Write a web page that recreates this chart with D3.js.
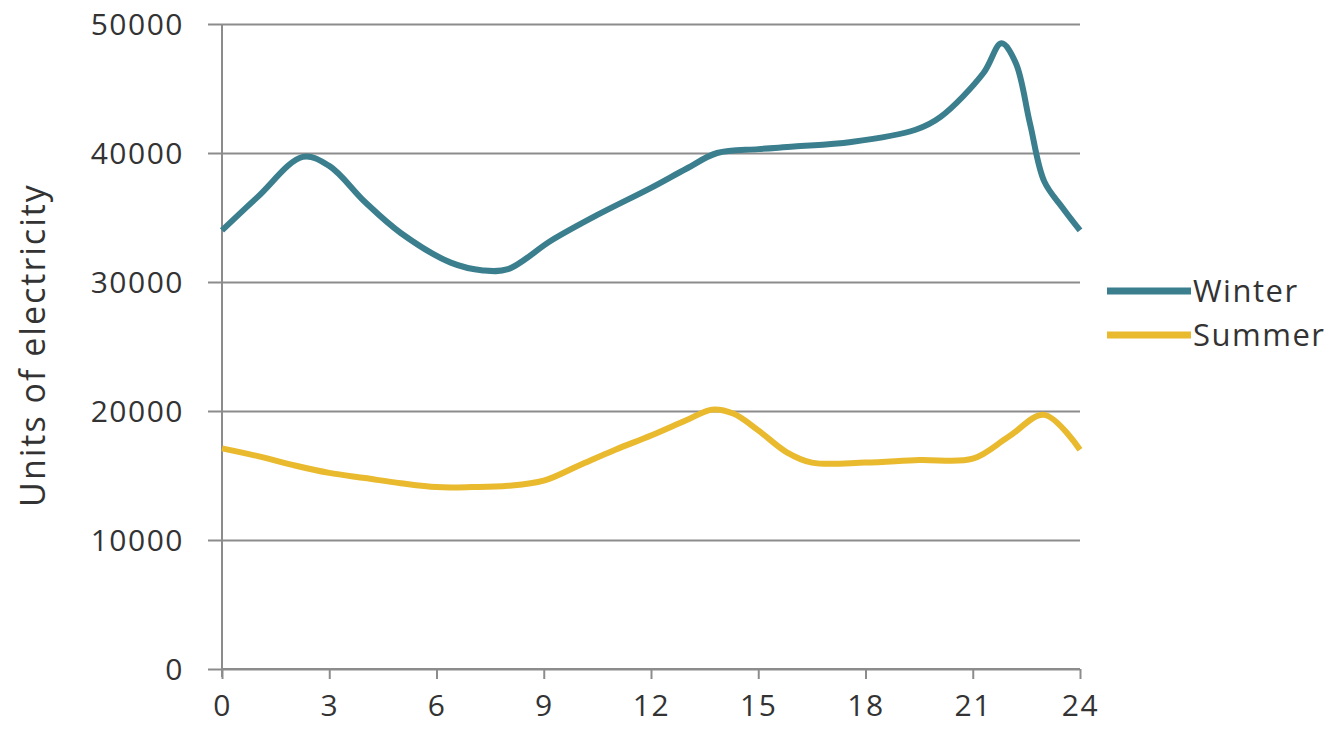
<!doctype html>
<html lang="en">
  <head>
    <meta charset="utf-8">
    <title>Units of electricity</title>
    <script src="https://d3js.org/d3.v7.min.js"></script>
    <style>
      body { margin: 0; background: #fff; }
      text { font-family: "Open Sans", sans-serif; fill: #333; }
    </style>
  </head>

  <body>
    <svg width="1342" height="752"></svg>

    <script>
      var hourTicks = [0, 3, 6, 9, 12, 15, 18, 21, 24];
      var valueTicks = [0, 10000, 20000, 30000, 40000, 50000];

      var winterHours = [0, 1, 2.26, 3, 4, 5, 6.4, 7.3, 8, 9.2, 10.5, 12, 13, 13.85, 15, 16, 17.6, 19.4, 20.1, 21.3, 21.8, 22.2, 22.6, 23, 23.5, 24];
      var winterValues = [34000, 36600, 39700, 39000, 36200, 33800, 31500, 30900, 31000, 33200, 35200, 37300, 38800, 40000, 40300, 40500, 40850, 41800, 42800, 46200, 48500, 47000, 42300, 37800, 35800, 34000];

      var summerHours = [0, 1, 2, 3, 4, 5, 6, 7, 8, 9, 10, 11, 12, 13, 13.7, 14.3, 15, 15.8, 16.5, 18, 19.5, 21, 22, 23, 24];
      var summerValues = [17100, 16500, 15800, 15200, 14800, 14400, 14100, 14100, 14200, 14600, 15800, 17000, 18100, 19300, 20100, 19800, 18500, 16800, 16000, 16000, 16200, 16300, 18000, 19700, 17000];

      var seriesNames = ['Winter', 'Summer'];
      var seriesColors = ['#3b7f8e', '#e9b92e'];

      var svg = d3.select('svg');

      var x = d3.scaleLinear().domain([0, 24]).range([222, 1080]);
      var y = d3.scaleLinear().domain([0, 50000]).range([669, 24]);

      // gridlines with left stubs
      svg.append('g')
        .attr('transform', 'translate(222,0)')
        .call(d3.axisLeft(y).tickValues(valueTicks).tickSizeInner(-858).tickSizeOuter(0).tickFormat(''))
        .call(function(g){
          g.select('.domain').remove();
          g.selectAll('.tick line').attr('x1', -14).attr('stroke', '#8c8c8c').attr('stroke-width', 2);
        });

      // y labels
      svg.append('g')
        .selectAll('text')
        .data(valueTicks)
        .join('text')
        .attr('x', 184)
        .attr('y', function(d){ return y(d); })
        .attr('dy', '0.36em')
        .attr('text-anchor', 'end')
        .style('font-size', '30px')
        .style('letter-spacing', '1.5px')
        .text(function(d){ return d; });

      // y axis line
      svg.append('line')
        .attr('x1', 222).attr('x2', 222)
        .attr('y1', y(50000)).attr('y2', y(0) + 8)
        .attr('stroke', '#8c8c8c').attr('stroke-width', 2);

      // x axis
      svg.append('g')
        .attr('transform', 'translate(0,' + y(0) + ')')
        .call(d3.axisBottom(x).tickValues(hourTicks).tickSize(10).tickPadding(16))
        .call(function(g){
          g.select('.domain').attr('stroke', '#8c8c8c').attr('stroke-width', 2).attr('d', 'M222,0H1080');
          g.selectAll('.tick line').attr('stroke', '#8c8c8c').attr('stroke-width', 2);
          g.selectAll('.tick text')
            .style('font-size', '30px')
            .style('letter-spacing', '1.5px')
            .style('font-family', '"Open Sans", sans-serif')
            .attr('fill', '#333');
        });

      var line = d3.line()
        .x(function(d){ return x(d[0]); })
        .y(function(d){ return y(d[1]); })
        .curve(d3.curveCatmullRom.alpha(0.5));

      var series = [
        d3.zip(winterHours, winterValues),
        d3.zip(summerHours, summerValues)
      ];

      svg.append('g')
        .selectAll('path')
        .data(series)
        .join('path')
        .attr('fill', 'none')
        .attr('stroke', function(d, i){ return seriesColors[i]; })
        .attr('stroke-width', 6)
        .attr('stroke-linejoin', 'round')
        .attr('d', line);

      // legend
      var legend = svg.append('g')
        .selectAll('g')
        .data(seriesNames)
        .join('g')
        .attr('transform', function(d, i){ return 'translate(1107,' + (291 + i * 44) + ')'; });

      legend.append('line')
        .attr('x1', 0).attr('x2', 84)
        .attr('stroke', function(d, i){ return seriesColors[i]; })
        .attr('stroke-width', 7);

      legend.append('text')
        .attr('x', 86)
        .attr('dy', '0.36em')
        .style('font-size', '31px')
        .style('letter-spacing', '1.5px')
        .text(function(d){ return d; });

      // y title
      svg.append('text')
        .attr('transform', 'translate(45,345) rotate(-90)')
        .attr('text-anchor', 'middle')
        .style('font-size', '34px')
        .style('letter-spacing', '2px')
        .text('Units of electricity');
    </script>
  </body>
</html>
